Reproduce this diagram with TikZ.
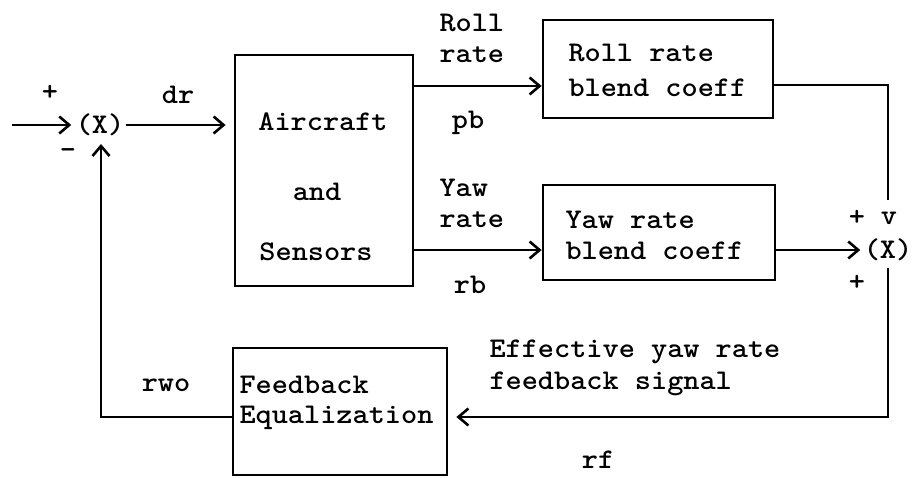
\documentclass[tikz,border=0pt]{standalone}
\usepackage{fontspec}
\newfontfamily\tw{lmmonolt10-bold}[Extension=.otf]
\usetikzlibrary{arrows.meta,calc}
\begin{document}
\begin{tikzpicture}[x=1pt,y=-1pt,line width=2.8pt,
  txt/.style={font=\tw\fontsize{28.5}{33}\selectfont, inner sep=0pt, align=left, transform shape, xscale=1.08},
  blk/.style={draw, inner sep=0pt},
  arr/.style={-{Straight Barb[length=10pt,width=17pt,line width=2.6pt]}}]
\useasboundingbox (0,0) rectangle (913,478);

% boxes
\node[blk, minimum width=178pt, minimum height=231pt] (ac) at (324,170.5) {};
\node[blk, minimum width=230pt, minimum height=98pt] (roll) at (658,69) {};
\node[blk, minimum width=232pt, minimum height=95pt] (yaw) at (659,232.5) {};
\node[blk, minimum width=214pt, minimum height=127pt] (fb) at (340,411.5) {};

% box texts
\node[txt] (t1) at (323,122) {Aircraft};
\node[txt] (t2) at (317,192) {and};
\node[txt] (t3) at (316,252) {Sensors};
\node[txt, anchor=west] (t4) at (567,53) {Roll rate};
\node[txt, anchor=west] (t5) at (567,88) {blend coeff};
\node[txt, anchor=west] (t6) at (564,220) {Yaw rate};
\node[txt, anchor=west] (t7) at (564,251) {blend coeff};
\node[txt, anchor=west] (t8) at (238,385) {Feedback};
\node[txt, anchor=west] (t9) at (238,418) {Equalization};

% summing junctions
\node[txt] (sumL) at (100,125) {(X)};
\node[txt] (sumR) at (888,250) {(X)};

% labels
\node[txt] (lp1) at (50,93) {+};
\node[txt] (lm1) at (68,154) {-};
\node[txt] (ldr) at (178,95) {dr};
\node[txt, anchor=west] (lroll) at (438,23) {Roll};
\node[txt, anchor=west] (lrate1) at (438,55) {rate};
\node[txt] (lpb) at (468,123) {pb};
\node[txt, anchor=west] (lyaw) at (438,188) {Yaw};
\node[txt, anchor=west] (lrate2) at (438,220) {rate};
\node[txt] (lrb) at (470,285) {rb};
\node[txt] (lp2) at (857,218) {+};
\node[txt] (lv) at (889,218) {v};
\node[txt] (lp3) at (857,283) {+};
\node[txt, anchor=west] (leff1) at (488,352) {Effective yaw rate};
\node[txt, anchor=west] (leff2) at (488,384) {feedback signal};
\node[txt] (lrf) at (598,460) {rf};
\node[txt] (lrwo) at (166,385) {rwo};

% connector points
\coordinate (in) at (12,125);
\coordinate (rollOut) at (413,86);
\coordinate (yawOut) at (413,250);
\coordinate (rb1) at (773,85);
\coordinate (rc1) at (888,85);
\coordinate (rc2) at (888,200);
\coordinate (rd1) at (888,268);
\coordinate (rd2) at (888,417);
\coordinate (lb1) at (101,417);
\coordinate (lb2) at (101,144);

% connectors
\draw[arr, shorten >=3pt] (in) -- (sumL.west);
\draw[arr, shorten >=8pt] (sumL.east) -- (sumL.east -| ac.west);
\draw[arr] (rollOut) -- (rollOut -| roll.west);
\draw[arr] (yawOut) -- (yawOut -| yaw.west);
\draw (rb1 -| roll.east) -- (rc1) -- (rc2);
\draw[arr, shorten >=2pt] (sumR.west -| yaw.east) -- (sumR.west);
\draw[arr, shorten >=8pt] (rd1) -- (rd2) -- (rd2 -| fb.east);
\draw[arr] (lb1 -| fb.west) -- (lb1) -- (lb2);
\end{tikzpicture}
\end{document}
